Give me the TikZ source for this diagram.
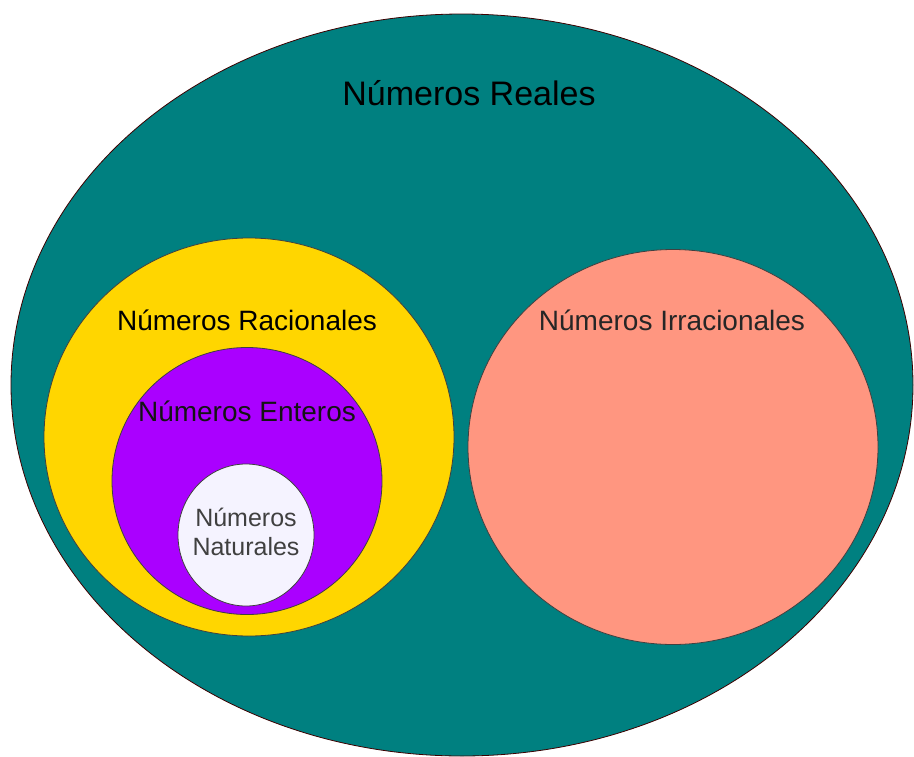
\documentclass[tikz,border=0pt]{standalone}
\usepackage{fontspec}
\setmainfont{Liberation Sans}
\usetikzlibrary{shapes.geometric}

\definecolor{realcol}{RGB}{0,128,128}
\definecolor{racicol}{RGB}{255,214,0}
\definecolor{entcol}{RGB}{170,0,255}
\definecolor{natcol}{RGB}{245,243,255}
\definecolor{irrcol}{RGB}{255,150,128}

\begin{document}
\begin{tikzpicture}[x=1pt,y=-1pt,
  set node/.style={ellipse,draw=black!75,line width=0.8pt,inner sep=0pt},
  big label/.style={font=\fontsize{34}{40}\selectfont},
  set label/.style={font=\fontsize{28}{32}\selectfont},
  small label/.style={font=\fontsize{25}{29}\selectfont,align=center}]

  \useasboundingbox (0,0) rectangle (914,756);

  \node[set node,fill=realcol,draw=black!60!red!60!black,minimum width=902pt,minimum height=742pt] (reales) at (462,385) {};
  \node[set node,fill=racicol,minimum width=410pt,minimum height=398pt] (racionales) at (249,437) {};
  \node[set node,fill=entcol,minimum width=270pt,minimum height=267pt] (enteros) at (247,481) {};
  \node[set node,fill=natcol,minimum width=136pt,minimum height=142pt] (naturales) at (246,535) {};
  \node[set node,fill=irrcol,minimum width=410pt,minimum height=395pt] (irracionales) at (673,447) {};

  % labels
  \node[big label] (lreales) at (469,93) {Números Reales};
  \node[set label] (lracionales) at (247,320) {Números Racionales};
  \node[set label,text=black!92] (lenteros) at (247,411) {Números Enteros};
  \node[small label,text=black!75] (lnaturales) at (246,532) {Números\\Naturales};
  \node[set label,text=black!85] (lirracionales) at (672,320) {Números Irracionales};

\end{tikzpicture}
\end{document}
